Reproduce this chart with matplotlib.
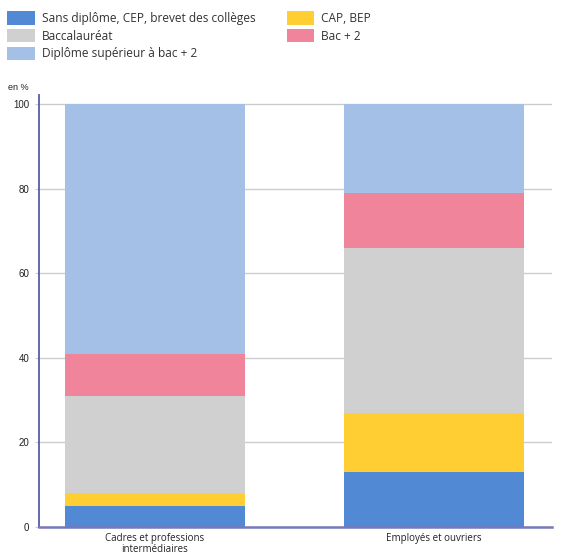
import matplotlib
matplotlib.use("Agg")
import matplotlib.pyplot as plt
from matplotlib.patches import Patch

# ── data (en %) ──────────────────────────────────────────────────────────────
categories = ["Cadres et professions\nintermédiaires", "Employés et ouvriers"]
series_names = [
    "Sans diplôme, CEP, brevet des collèges",
    "CAP, BEP",
    "Baccalauréat",
    "Bac + 2",
    "Diplôme supérieur à bac + 2",
]
sans_diplome = [5, 13]
cap_bep = [3, 14]
baccalaureat = [23, 39]
bac_2 = [10, 13]
superieur = [59, 21]
y_ticks = [0, 20, 40, 60, 80, 100]

colors = ["#5289D4", "#FFCE33", "#D0D0D0", "#F0849A", "#A4C0E6"]
values = [sans_diplome, cap_bep, baccalaureat, bac_2, superieur]

plt.rcParams["font.family"] = ["Open Sans", "DejaVu Sans"]

fig = plt.figure(figsize=(5.68, 5.54), dpi=100)
ax = fig.add_axes([0.0687, 0.0487, 0.903, 0.779])

x = list(range(len(categories)))
bottom = [0] * len(categories)
for vals, col in zip(values, colors):
    ax.bar(x, vals, width=0.645, bottom=bottom, color=col, linewidth=0, zorder=2)
    bottom = [b + v for b, v in zip(bottom, vals)]

ax.set_xlim(-0.416, 1.423)
ax.set_ylim(0, 102)
ax.set_yticks(y_ticks)
ax.set_yticklabels([str(t) for t in y_ticks], fontsize=7,
                   family=["Liberation Sans"], color="#222222")
ax.set_xticks(x)
ax.set_xticklabels(categories, fontsize=7, color="#222222", linespacing=1.05)
ax.tick_params(axis="x", length=0, pad=4)
ax.tick_params(axis="y", length=3, color="#cccccc", pad=4)
ax.yaxis.grid(True, color="#cccccc", linewidth=1, zorder=1)

for side in ("top", "right"):
    ax.spines[side].set_visible(False)
ax.spines["left"].set_color("#5a5aa8")
ax.spines["left"].set_linewidth(1.3)
ax.spines["bottom"].set_color("#7878bc")
ax.spines["bottom"].set_linewidth(1.8)

fig.text(0.014, 0.838, "en %", fontsize=6.5, family=["Liberation Sans"], color="#222222")

# legend in two blocks: left column of three, right column of two
def handles(idx):
    return [Patch(facecolor=colors[i], edgecolor="none") for i in idx], [series_names[i] for i in idx]

left_idx = [0, 2, 4]
right_idx = [1, 3]
for idx, xpos in ((left_idx, -0.006), (right_idx, 0.486)):
    h, l = handles(idx)
    fig.legend(h, l, loc="upper left", bbox_to_anchor=(xpos, 0.999), frameon=False,
               fontsize=8.6, handlelength=2.3, handleheight=1.35,
               labelspacing=0.33, handletextpad=0.6, labelcolor="#333333")

fig.savefig("out.png", dpi=100)
